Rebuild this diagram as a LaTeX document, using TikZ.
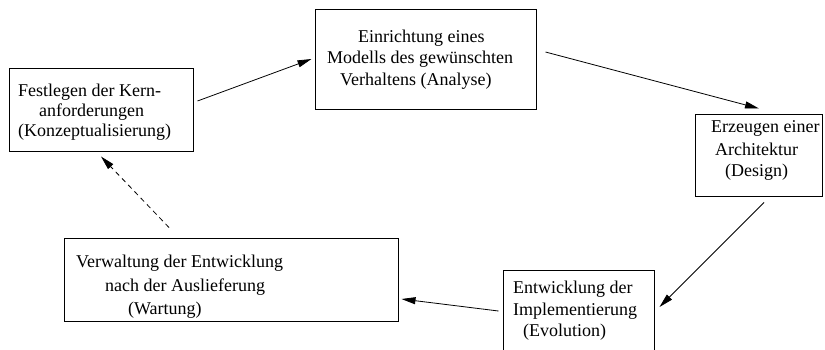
\documentclass[tikz,border=0pt]{standalone}
\usepackage{fontspec}
\setmainfont{Liberation Serif}
\usetikzlibrary{arrows.meta,calc}

\tikzset{
  box/.style={draw, line width=1pt, rectangle, inner sep=0pt},
  txt/.style={anchor=base west, inner sep=0pt, font=\fontsize{18}{20}\selectfont},
  flow/.style={line width=0.8pt, -{Triangle[length=14pt,width=7pt]}},
  back/.style={flow, dashed, dash pattern=on 5pt off 4pt}
}

\begin{document}
\begin{tikzpicture}[x=1pt, y=-1pt]
  \useasboundingbox (0,0) rectangle (825,349);

  % process stages
  \node[box, minimum width=184pt, minimum height=83pt]  (b1) at (101,109.5) {};
  \node[box, minimum width=221pt, minimum height=100pt] (b2) at (425.5,59)  {};
  \node[box, minimum width=127pt, minimum height=82pt]  (b3) at (758.5,155) {};
  \node[box, minimum width=151pt, minimum height=82pt]  (b4) at (578.5,311) {};
  \node[box, minimum width=334pt, minimum height=83pt]  (b5) at (231,279.5) {};

  % stage labels
  \node[txt] (t1a) at (18,96)  {Festlegen der Kern-};
  \node[txt] (t1b) at (39,116) {anforderungen};
  \node[txt] (t1c) at (18,136) {(Konzeptualisierung)};

  \node[txt] (t2a) at (358,42) {Einrichtung eines};
  \node[txt] (t2b) at (327,63) {Modells des gewünschten};
  \node[txt] (t2c) at (340,85) {Verhaltens (Analyse)};

  \node[txt] (t3a) at (711,132) {Erzeugen einer};
  \node[txt] (t3b) at (715,155) {Architektur};
  \node[txt] (t3c) at (725,176) {(Design)};

  \node[txt] (t4a) at (513,293) {Entwicklung der};
  \node[txt] (t4b) at (513,315) {Implementierung};
  \node[txt] (t4c) at (523,336) {(Evolution)};

  \node[txt] (t5a) at (76,267)  {Verwaltung der Entwicklung};
  \node[txt] (t5b) at (105,291) {nach der Auslieferung};
  \node[txt] (t5c) at (128,314) {(Wartung)};

  % connector end points next to the stages
  \coordinate (a1s) at ($(b1.east)+(4,-8.5)$);
  \coordinate (a1e) at ($(b2.west)+(-3,0)$);
  \coordinate (a2s) at ($(b2.east)+(9,-7)$);
  \coordinate (a2e) at ($(b3.north)+(0.5,-5)$);
  \coordinate (a3s) at ($(b3.south)+(5.5,6)$);
  \coordinate (a3e) at ($(b4.east)+(5,-4)$);
  \coordinate (a4s) at ($(b4.west)+(-4,0)$);
  \coordinate (a4e) at ($(b5.east)+(3,19.5)$);
  \coordinate (a5s) at ($(b5.north)+(-62,-10)$);
  \coordinate (a5e) at ($(b1.south)+(0,5)$);

  % cycle
  \draw[flow] (a1s) -- (a1e);
  \draw[flow] (a2s) -- (a2e);
  \draw[flow] (a3s) -- (a3e);
  \draw[flow] (a4s) -- (a4e);
  \draw[back] (a5s) -- (a5e);
\end{tikzpicture}
\end{document}
